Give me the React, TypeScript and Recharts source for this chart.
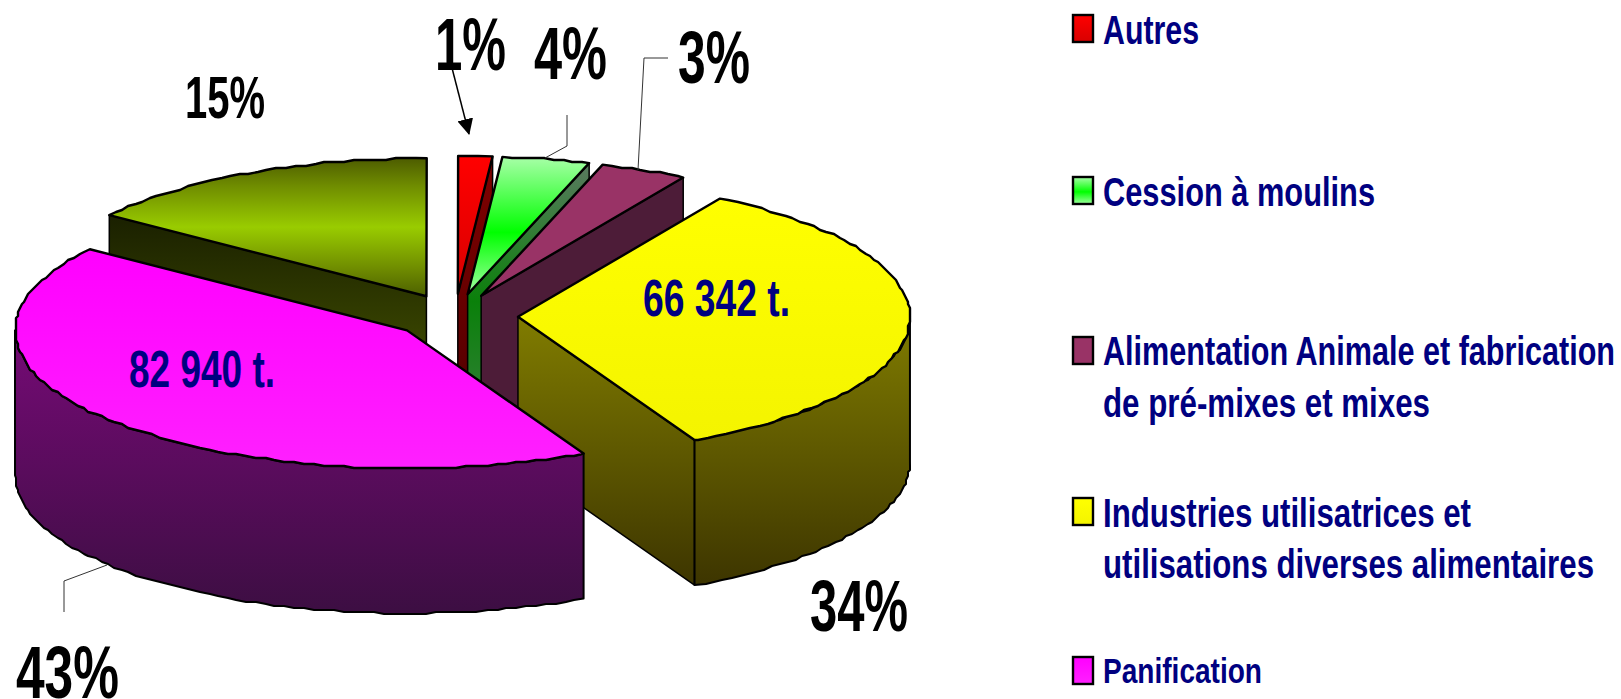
import { Legend, Pie, PieChart } from 'recharts'

const WIDTH = 1621
const HEIGHT = 699

const sliceNames = ['Non lisible', 'Autres', 'Cession à moulins', 'Alimentation Animale', 'Industries', 'Panification']
const sliceTonnes = [29340, 2740, 7040, 7040, 66342, 82940]
const percentLabels = ['15%', '1%', '4%', '3%', '34%', '43%']
const tonnageLabels = ['', '', '', '', '66 342 t.', '82 940 t.']

const legendNames = [
	['Autres'],
	['Cession à moulins'],
	['Alimentation Animale et fabrication', 'de pré-mixes et mixes'],
	['Industries utilisatrices et', 'utilisations diverses alimentaires'],
	['Panification'],
]

const data = sliceNames.map((name, i) => ({ name, value: sliceTonnes[i] }))

const NAVY = '#000080'
const FONT = '"Liberation Sans", Arial, sans-serif'

const TILT = 0.352
const DEPTH = 145
const EXPLODE = 63

// top gradient, side gradient per slice
const topStops = [
	[['0', '#4d5c00'], ['0.2', '#6f8c00'], ['0.5', '#99cc00'], ['0.8', '#6f8c00'], ['1', '#4d6000']],
	[['0', '#ff0000'], ['1', '#d80000']],
	[['0', '#a8ffa8'], ['0.55', '#00ff00'], ['1', '#a0ffa0']],
	[['0', '#993366'], ['1', '#993366']],
	[['0', '#ffff00'], ['1', '#f4f400']],
	[['0', '#ff00ff'], ['1', '#ff20ff']],
]
const sideStops = [
	[['0', '#1a2000'], ['1', '#4f5f00']],
	[['0', '#800000'], ['1', '#4d0000']],
	[['0', '#5a7a60'], ['0.5', '#0a800a'], ['1', '#3a8040']],
	[['0', '#4d1c38'], ['1', '#4d1c38']],
	[['0', '#807c00'], ['1', '#3d3500']],
	[['0', '#760a76'], ['1', '#3c0e42']],
]

const labelLayout = [
	{ x: 185, y: 118, w: 80, size: 60 },
	{ x: 435, y: 70, w: 71, size: 74 },
	{ x: 534, y: 79, w: 73, size: 74 },
	{ x: 678, y: 83, w: 72, size: 74 },
	{ x: 810, y: 631, w: 98, size: 72 },
	{ x: 16, y: 698, w: 103, size: 74 },
]
const tonnageLayout = [null, null, null, null, { x: 643, y: 316, w: 147 }, { x: 129, y: 387, w: 146 }]
const leaderLines = [
	null,
	null,
	'567,115 567,146 545,158',
	'668,58 644,58 638,170',
	null,
	'64,612 64,581 107,565',
]

const legendLayout = [
	{ swatchY: 15, baselines: [44], widths: [96], size: 40 },
	{ swatchY: 177, baselines: [206], widths: [272], size: 40 },
	{ swatchY: 337, baselines: [365, 417], widths: [512, 327], size: 40 },
	{ swatchY: 498, baselines: [527, 578], widths: [368, 491], size: 40 },
	{ swatchY: 657, baselines: [683], widths: [159], size: 35 },
]
const legendSlice = [1, 2, 3, 4, 5]

const rad = (d: number) => (d * Math.PI) / 180
const snap = (v: number) => Math.round(v / 2) * 2

const Slice3D = (props: any) => {
	const { cx, cy, outerRadius, startAngle, endAngle, midAngle, name } = props
	const i = sliceNames.indexOf(name)
	const rx = outerRadius
	const ry = outerRadius * TILT
	// clockwise from the top of the pie
	const t1 = 90 - startAngle
	const t2 = 90 - endAngle
	const mid = 90 - midAngle
	const ox = cx + EXPLODE * Math.sin(rad(mid))
	const oy = cy - EXPLODE * TILT * Math.cos(rad(mid))
	const pt = (t: number, z = 0) => [ox + rx * Math.sin(rad(t)), oy - ry * Math.cos(rad(t)) + z]
	// the rim is a bit rough in the original, so snap its points to a small grid
	const arc = (a: number, b: number, z = 0) => {
		const pts = [pt(a, z)]
		for (let t = a + 1.5; t < b - 0.7; t += 1.5) {
			const [x, y] = pt(t, z)
			pts.push([snap(x), snap(y)])
		}
		pts.push(pt(b, z))
		return pts
	}
	const toPath = (pts: number[][]) => `M${pts.map((p) => p.join(',')).join('L')}Z`

	const top = toPath([[ox, oy], ...arc(t1, t2)])
	const w1 = Math.max(t1, 90)
	const w2 = Math.min(t2, 270)
	const wall = w2 > w1 ? toPath([...arc(w1, w2), ...arc(w1, w2, DEPTH).reverse()]) : null
	const face = (t: number) =>
		toPath([
			[ox, oy],
			pt(t),
			pt(t, DEPTH),
			[ox, oy + DEPTH],
		])
	const showStart = Math.sin(rad(t1)) < -0.01
	const showEnd = Math.sin(rad(t2)) > 0.01
	const side = `url(#side${i})`

	return (
		<g stroke="#000" strokeLinejoin="round">
			{showStart && <path d={face(t1)} fill={side} strokeWidth={1.5} />}
			{showEnd && <path d={face(t2)} fill={side} strokeWidth={1.5} />}
			{wall && <path d={wall} fill={side} strokeWidth={2} />}
			<path d={top} fill={`url(#top${i})`} strokeWidth={2.4} />
		</g>
	)
}

const SliceLabel = (props: any) => {
	const i = sliceNames.indexOf(props.name)
	const l = labelLayout[i]
	const t = tonnageLayout[i]
	return (
		<g fontFamily={FONT} fontWeight="bold">
			{leaderLines[i] && <polyline points={leaderLines[i]} fill="none" stroke="#333" strokeWidth={1} />}
			<text x={l.x} y={l.y} fontSize={l.size} fill="#000" textLength={l.w} lengthAdjust="spacingAndGlyphs">
				{percentLabels[i]}
			</text>
			{t && (
				<text x={t.x} y={t.y} fontSize={52} fill={NAVY} textLength={t.w} lengthAdjust="spacingAndGlyphs">
					{tonnageLabels[i]}
				</text>
			)}
		</g>
	)
}

const renderLegend = () => (
	<svg width={WIDTH} height={HEIGHT} style={{ display: 'block' }}>
		{legendNames.map((lines, r) => {
			const l = legendLayout[r]
			return (
				<g key={lines[0]}>
					<rect x={1073} y={l.swatchY} width={20} height={27} fill={`url(#swatch${legendSlice[r]})`} stroke="#000" strokeWidth={2.4} />
					{lines.map((line, k) => (
						<text
							key={line}
							x={1103}
							y={l.baselines[k]}
							fontFamily={FONT}
							fontWeight="bold"
							fontSize={l.size}
							fill={NAVY}
							textLength={l.widths[k]}
							lengthAdjust="spacingAndGlyphs"
						>
							{line}
						</text>
					))}
				</g>
			)
		})}
		<defs>
			{topStops.map((stops, i) => (
				<linearGradient key={i} id={`swatch${i}`} x1="0" y1="0" x2="0" y2="1">
					{stops.map(([o, c]) => (
						<stop key={o} offset={o} stopColor={c} />
					))}
				</linearGradient>
			))}
		</defs>
	</svg>
)

export default function App() {
	return (
		<div style={{ width: WIDTH, height: HEIGHT, position: 'relative', background: '#fff' }}>
			<style>{'body{margin:0;overflow:hidden}'}</style>
			<PieChart width={WIDTH} height={HEIGHT} margin={{ top: 0, right: 0, bottom: 0, left: 0 }}>
				<defs>
					{topStops.map((stops, i) => (
						<linearGradient key={i} id={`top${i}`} x1="0" y1="0" x2="0" y2="1">
							{stops.map(([o, c]) => (
								<stop key={o} offset={o} stopColor={c} />
							))}
						</linearGradient>
					))}
					{sideStops.map((stops, i) => (
						<linearGradient key={i} id={`side${i}`} x1="0" y1="0" x2="0" y2="1">
							{stops.map(([o, c]) => (
								<stop key={o} offset={o} stopColor={c} />
							))}
						</linearGradient>
					))}
					<marker id="arrow" markerWidth="16" markerHeight="16" refX="15" refY="8" orient="auto" markerUnits="userSpaceOnUse">
						<path d="M0,0L16,8L0,16Z" fill="#000" />
					</marker>
				</defs>
				<Pie
					data={data}
					dataKey="value"
					nameKey="name"
					cx={455}
					cy={316}
					innerRadius={0}
					outerRadius={392}
					startAngle={144}
					endAngle={-216}
					stroke="none"
					isAnimationActive={false}
					shape={Slice3D}
					label={SliceLabel}
					labelLine={false}
				/>
				<line x1={452} y1={68} x2={469} y2={134} stroke="#000" strokeWidth={1.5} markerEnd="url(#arrow)" />
				<Legend content={renderLegend} wrapperStyle={{ left: 0, top: 0, width: WIDTH, height: HEIGHT, pointerEvents: 'none' }} />
			</PieChart>
		</div>
	)
}
